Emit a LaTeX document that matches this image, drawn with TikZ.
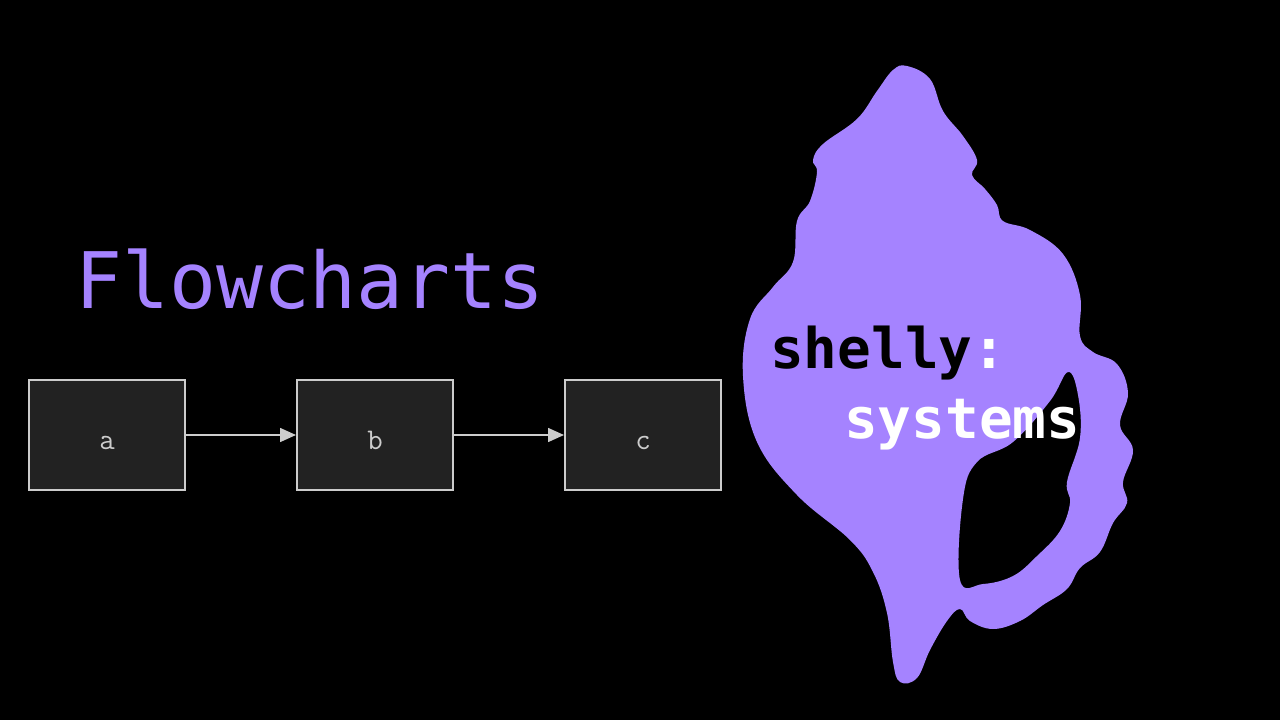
\documentclass[tikz,border=0pt]{standalone}
\usepackage{fontspec}
\setmonofont{DejaVu Sans Mono}
\usetikzlibrary{arrows.meta}
\definecolor{shellc}{HTML}{A583FF}
\definecolor{boxfill}{HTML}{222222}
\definecolor{boxline}{HTML}{CCCCCC}
\begin{document}
\begin{tikzpicture}[x=1pt,y=-1pt,
  fbox/.style={draw=boxline,line width=2pt,fill=boxfill,minimum width=156pt,minimum height=110pt,inner sep=0pt,text height=28pt,text depth=0pt,text=boxline,font=\fontfamily{lmtt}\fontsize{30}{32}\selectfont},
  conn/.style={draw=boxline,line width=1.6pt,-{Triangle[length=16pt,width=14pt]}}]
\useasboundingbox (0,0) rectangle (1280,720);
\fill[black] (0,0) rectangle (1280,720);
\fill[shellc,even odd rule] plot[smooth cycle,tension=0.65] coordinates{
(907,66)(930,79)(943,111)(963,136)(977,160)(972,175)(985,189)(997,205)(1003,221)(1030,230)(1063,254)(1080,295)(1080,336)(1093,352)(1117,364)(1128,393)(1120,425)(1133,450)(1123,482)(1127,503)(1113,523)(1100,552)(1080,568)(1067,589)(1043,605)(1020,621)(993,629)(970,621)(960,609)(947,621)(930,650)(917,678)(900,682)(893,662)(887,613)(873,572)(850,540)(797,495)(757,442)(743,376)(750,319)(773,287)(793,262)(797,221)(810,201)(817,172)(813,160)(823,144)(857,119)(877,91)(893,70)}
plot[smooth cycle,tension=0.65] coordinates{
(1068,372)(1078,395)(1080,438)(1067,482)(1070,503)(1060,531)(1037,556)(1013,576)(983,584)(960,580)(963,499)(977,462)(1013,442)(1050,401)};
\node[anchor=base west,inner sep=0pt,text=shellc,font=\ttfamily\fontsize{78}{80}\selectfont] (title) at (75,308) {Flowcharts};
\node[fbox] (a) at (107,435) {a};
\node[fbox] (b) at (375,435) {b};
\node[fbox] (c) at (643,435) {c};
\draw[conn] (a) -- (b);
\draw[conn] (b) -- (c);
\node[anchor=base west,inner sep=0pt,font=\ttfamily\bfseries\fontsize{56}{60}\selectfont] (s1) at (770,368) {\textcolor{black}{shelly}\textcolor{white}{:}};
\node[anchor=base west,inner sep=0pt,text=white,font=\ttfamily\bfseries\fontsize{56}{60}\selectfont] (s2) at (844,438) {systems};
\end{tikzpicture}
\end{document}
